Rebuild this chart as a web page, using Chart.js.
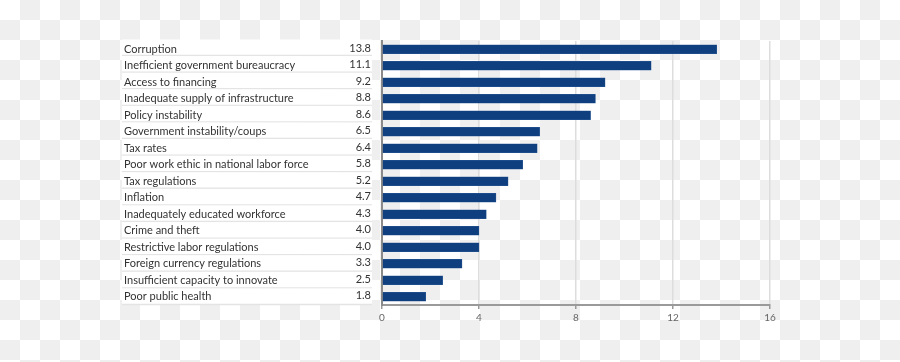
<!DOCTYPE html>
<html>
<head>
<meta charset="utf-8">
<script src="https://cdn.jsdelivr.net/npm/chart.js@4.4.0/dist/chart.umd.min.js"></script>
<style>
  html, body { margin: 0; padding: 0; }
  body {
    width: 900px; height: 362px; overflow: hidden;
    background: repeating-conic-gradient(#efefef 0% 25%, #ffffff 0% 50%) 0 0 / 40px 40px;
  }
  #wrap { position: absolute; left: 0; top: 0; width: 900px; height: 362px; }
</style>
</head>
<body>
<div id="wrap"><canvas id="c" width="900" height="362"></canvas></div>
<script>
const categories = [
  "Corruption",
  "Inefficient government bureaucracy",
  "Access to financing",
  "Inadequate supply of infrastructure",
  "Policy instability",
  "Government instability/coups",
  "Tax rates",
  "Poor work ethic in national labor force",
  "Tax regulations",
  "Inflation",
  "Inadequately educated workforce",
  "Crime and theft",
  "Restrictive labor regulations",
  "Foreign currency regulations",
  "Insufficient capacity to innovate",
  "Poor public health"
];
const values = [13.8, 11.1, 9.2, 8.8, 8.6, 6.5, 6.4, 5.8, 5.2, 4.7, 4.3, 4.0, 4.0, 3.3, 2.5, 1.8];
const xTicks = [0, 4, 8, 12, 16];

const FONT = "Lato, 'Open Sans', sans-serif";

const tablePlugin = {
  id: 'tablePlugin',
  beforeDraw(chart) {
    const ctx = chart.ctx;
    const area = chart.chartArea;
    const top = area.top - 1.5;
    const bottom = area.bottom;
    const n = categories.length;
    const h = (bottom - top) / n;
    const x0 = 122, x1 = 372;
    ctx.save();
    for (let i = 0; i < n; i++) {
      const y = top + i * h;
      ctx.fillStyle = '#ffffff';
      ctx.fillRect(x0, y, x1 - x0, h);
      ctx.strokeStyle = '#e4e4e4';
      ctx.lineWidth = 1.5;
      ctx.beginPath();
      ctx.moveTo(x0, y + h - 0.5);
      ctx.lineTo(x1, y + h - 0.5);
      ctx.stroke();
    }
    ctx.restore();
  },
  afterDraw(chart) {
    const ctx = chart.ctx;
    const yScale = chart.scales.y;
    ctx.save();
    ctx.font = "11px " + FONT;
    ctx.fillStyle = '#333333';
    ctx.textAlign = 'right';
    ctx.textBaseline = 'middle';
    values.forEach((v, i) => {
      ctx.fillText(v.toFixed(1), 371, yScale.getPixelForValue(i) - 1);
    });
    ctx.restore();
  }
};

new Chart(document.getElementById('c'), {
  type: 'bar',
  data: {
    labels: categories,
    datasets: [{
      data: values,
      backgroundColor: '#0f3f7e',
      borderColor: '#2a5a95',
      borderWidth: 0.5,
      barThickness: 9
    }]
  },
  options: {
    indexAxis: 'y',
    responsive: false,
    animation: false,
    devicePixelRatio: 1,
    layout: { padding: { left: 124, right: 130, top: 41, bottom: 32 } },
    plugins: { legend: { display: false }, tooltip: { enabled: false } },
    scales: {
      x: {
        type: 'linear',
        min: 0, max: 16,
        afterBuildTicks(scale) { scale.ticks = xTicks.map(v => ({ value: v })); },
        afterFit(scale) { scale.height = 25; },
        grid: { color: '#dddddd', lineWidth: 1.5, tickLength: 4, tickColor: '#999999', drawTicks: true },
        border: { display: true, color: '#9a9a9a', width: 2 },
        ticks: { color: '#666666', font: { family: FONT, size: 10 }, padding: 3 }
      },
      y: {
        type: 'category',
        afterFit(scale) { scale.width = 258; },
        grid: { display: false, drawTicks: false },
        border: { display: true, color: '#8a8a8a', width: 2 },
        ticks: { color: '#333333', font: { family: FONT, size: 11 }, crossAlign: 'far', padding: 0 }
      }
    }
  },
  plugins: [tablePlugin]
});
</script>
</body>
</html>
